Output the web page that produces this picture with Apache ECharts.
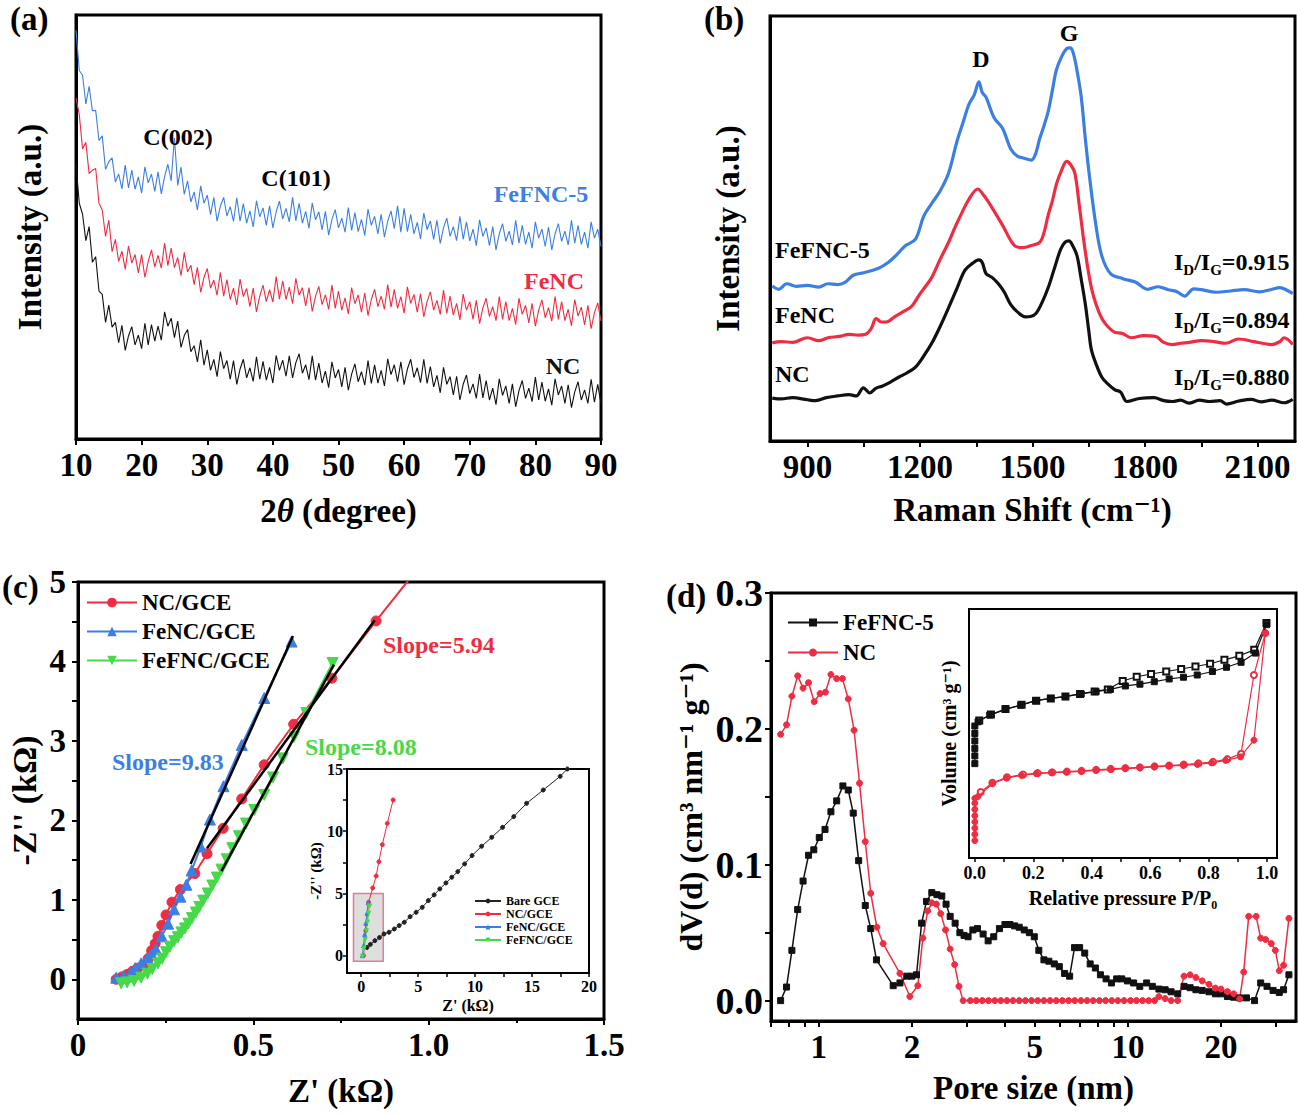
<!DOCTYPE html>
<html><head><meta charset="utf-8">
<script src="https://cdn.jsdelivr.net/npm/echarts@6/dist/echarts.min.js"></script>
<style>html,body{margin:0;padding:0;background:#fff}#c{width:1299px;height:1115px}</style>
</head><body><div id="c"></div>
<script>
// ---------------- (a) XRD ----------------
const XRD_X = [10,10.5,11,11.5,12,12.5,13,13.5,14,14.5,15,15.5,16,16.5,17,17.5,18,18.5,19,19.5,20,20.5,21,21.5,22,22.5,23,23.5,24,24.5,25,25.5,26,26.5,27,27.5,28,28.5,29,29.5,30,30.5,31,31.5,32,32.5,33,33.5,34,34.5,35,35.5,36,36.5,37,37.5,38,38.5,39,39.5,40,40.5,41,41.5,42,42.5,43,43.5,44,44.5,45,45.5,46,46.5,47,47.5,48,48.5,49,49.5,50,50.5,51,51.5,52,52.5,53,53.5,54,54.5,55,55.5,56,56.5,57,57.5,58,58.5,59,59.5,60,60.5,61,61.5,62,62.5,63,63.5,64,64.5,65,65.5,66,66.5,67,67.5,68,68.5,69,69.5,70,70.5,71,71.5,72,72.5,73,73.5,74,74.5,75,75.5,76,76.5,77,77.5,78,78.5,79,79.5,80,80.5,81,81.5,82,82.5,83,83.5,84,84.5,85,85.5,86,86.5,87,87.5,88,88.5,89,89.5,90];
const XRD_FEFNC5 = [
96.4,86.9,85.8,79.0,83.2,77.4,77.5,70.4,71.5,63.6,
65.4,66.3,60.6,62.5,59.0,64.6,59.2,63.4,58.9,61.8,
58.0,64.2,60.4,62.5,58.4,63.0,57.8,61.9,64.8,60.9,
71.0,59.8,64.1,57.7,60.9,55.9,58.3,54.0,59.7,55.6,
57.5,52.9,57.0,51.4,54.9,57.0,52.6,54.8,51.3,56.9,
51.4,55.5,50.9,53.8,50.0,56.2,52.4,54.5,50.4,55.0,
49.8,53.6,56.1,51.9,54.4,51.2,57.0,51.5,55.6,50.9,
53.7,49.7,55.7,51.7,53.6,49.3,53.7,48.1,51.8,54.1,
49.8,52.1,48.8,54.6,49.2,53.4,48.9,51.8,48.0,54.2,
50.4,52.5,48.4,53.0,47.6,51.4,53.8,49.6,55.0,48.8,
54.4,48.9,53.0,48.4,51.1,47.2,53.3,49.4,51.4,47.1,
51.6,46.1,49.8,52.1,47.8,50.1,46.8,52.5,47.1,51.2,
46.7,49.5,45.6,51.7,47.8,49.8,45.6,50.1,44.6,48.4,
50.8,46.6,49.0,45.8,51.6,46.2,50.4,45.9,48.8,45.0,
51.2,47.4,49.5,45.4,50.0,44.6,48.4,50.8,46.6,49.0,
45.8,51.6,46.2,50.4,45.9,48.8,45.0,51.2,47.4,49.5,
45.4];
const XRD_FENC = [
80.4,76.5,68.4,70.0,62.6,63.4,63.8,55.6,54.0,47.8,
51.6,44.2,47.1,41.9,44.3,40.0,45.5,41.5,43.5,39.2,
43.5,38.1,41.9,44.6,40.6,43.3,40.3,46.2,40.9,45.0,
40.4,42.8,38.5,44.0,39.4,41.0,36.4,40.5,34.6,38.1,
40.2,35.6,37.5,33.9,39.3,33.7,37.6,32.9,35.6,31.6,
37.7,33.6,35.5,31.2,35.6,30.0,33.7,36.3,32.4,35.2,
32.3,38.3,33.0,37.3,32.9,35.8,31.9,37.9,33.9,35.7,
31.4,35.7,30.1,33.7,36.0,31.7,34.0,30.6,36.3,30.8,
34.9,30.4,33.3,29.5,35.7,31.9,34.0,29.9,34.5,29.1,
32.9,35.3,31.2,33.7,30.6,36.4,31.1,35.3,30.8,33.6,
29.7,35.9,32.0,34.1,29.9,34.3,28.8,32.4,34.7,30.4,
32.7,29.4,35.1,29.6,33.7,29.2,32.0,28.1,34.2,30.4,
32.4,28.2,32.7,27.2,30.9,33.2,28.9,31.2,27.9,33.6,
28.2,32.4,27.9,30.8,27.0,33.2,29.4,31.5,27.4,32.0,
26.6,30.4,32.8,28.6,31.0,27.8,33.6,28.2,32.4,27.9,
30.6,26.7,32.9,29.0,31.1,26.9,31.5,26.0,29.8,32.1,
27.8];
const XRD_NC = [
64.8,55.6,53.0,46.8,50.1,41.7,43.0,34.9,34.1,27.5,
31.6,26.4,27.5,22.7,26.8,20.9,24.3,26.5,22.2,24.5,
21.3,27.3,22.2,27.0,23.1,26.6,23.3,30.0,26.6,28.5,
23.9,27.8,21.6,24.4,25.8,20.6,22.0,18.2,23.4,17.4,
21.0,16.2,18.8,14.7,20.6,16.6,18.5,14.1,18.5,12.9,
16.5,18.8,14.4,16.8,13.6,19.4,14.1,18.3,13.9,16.9,
13.2,19.7,16.2,18.6,14.8,19.6,14.4,18.0,20.1,15.5,
17.5,14.0,19.6,13.9,17.9,13.2,16.0,12.1,18.2,14.4,
16.4,12.3,16.9,11.5,15.3,17.7,13.5,15.9,12.7,18.5,
13.1,17.5,13.2,16.2,12.5,18.9,15.2,17.5,13.5,18.2,
12.8,16.5,18.8,14.5,16.8,13.3,18.8,13.1,17.1,12.3,
15.0,10.9,16.9,12.9,14.7,10.4,14.8,9.2,12.9,15.1,
10.7,13.0,9.6,15.3,9.7,13.8,9.2,12.0,8.1,14.2,
10.3,12.5,8.4,13.0,7.6,11.4,13.8,9.6,12.0,8.8,
14.6,9.2,13.4,8.9,11.8,8.0,14.2,10.4,12.5,8.4,
12.8,7.4,11.1,13.5,9.2,11.6,8.4,14.1,8.7,12.9,
8.4];

// ---------------- (b) Raman ----------------
const RAMAN_FEFNC5_X = [806,823,845,870,900,930,955,980,1000,1022,1050,1088,1115,1143,1160,1188,1210,1232,1254,1276,1298,1315,1331,1345,1357,1366,1376,1398,1420,1442,1460,1475,1497,1508,1519,1530,1542,1553,1564,1578,1591,1600,1608,1619,1630,1641,1652,1669,1685,1708,1741,1774,1807,1835,1862,1884,1906,1930,1951,1990,2028,2065,2105,2135,2160,2180,2194];
const RAMAN_FEFNC5_Y = [36.5,35.7,37.0,36.4,36.6,36.2,37.0,36.8,37.3,39.0,39.6,40.6,42.0,44.3,45.9,47.5,52.9,56.0,58.9,63.0,70.3,75.0,79.3,81.5,84.5,82.0,80.9,76.0,73.6,68.7,67.0,66.6,66.1,67.5,71.1,74.0,77.6,82.5,87.4,90.5,92.3,92.5,91.5,87.0,80.9,71.0,62.2,50.8,43.5,39.4,38.2,37.4,35.7,36.3,35.6,35.2,34.1,35.8,35.6,35.0,35.3,35.6,35.1,35.6,36.1,35.4,34.7];
const RAMAN_FENC_X = [806,830,860,900,930,955,985,1011,1035,1055,1070,1083,1097,1110,1132,1154,1177,1199,1215,1232,1254,1276,1292,1309,1330,1354,1370,1387,1420,1453,1475,1497,1519,1530,1542,1553,1564,1578,1591,1602,1613,1624,1635,1646,1657,1670,1685,1700,1719,1740,1763,1796,1829,1850,1873,1895,1917,1950,1983,2015,2050,2090,2138,2160,2171,2194];
const RAMAN_FENC_Y = [23.1,23.4,23.2,24.3,23.6,24.3,24.6,25.1,24.9,25.1,26.5,28.8,28.0,28.0,29.2,30.4,31.6,34.5,36.4,38.6,42.8,46.7,50.0,53.2,56.8,59.3,57.8,55.6,50.8,45.9,45.5,46.0,46.7,48.8,53.2,56.5,60.5,63.8,65.8,65.0,63.0,56.0,48.3,41.5,36.1,32.0,28.8,27.0,25.6,25.3,24.3,24.8,24.6,23.2,22.7,23.0,23.2,23.6,23.4,23.0,24.0,23.4,22.7,23.4,24.3,22.7];
const RAMAN_NC_X = [806,830,860,900,922,950,980,1011,1030,1049,1066,1082,1099,1120,1143,1165,1188,1210,1232,1254,1276,1298,1320,1340,1357,1366,1376,1392,1409,1425,1442,1462,1481,1495,1509,1525,1542,1558,1575,1587,1597,1608,1619,1630,1641,1650,1657,1670,1685,1700,1719,1735,1752,1785,1824,1850,1873,1895,1917,1945,1972,2000,2017,2050,2083,2110,2138,2171,2194];
const RAMAN_NC_Y = [10.1,9.9,10.2,9.7,9.5,10.2,10.6,10.9,10.6,12.5,11.3,12.4,12.9,13.8,15.0,16.0,17.4,20.0,23.1,27.0,31.3,35.8,40.2,41.8,42.6,42.0,39.4,38.5,37.0,35.0,32.1,30.2,29.2,29.3,30.0,32.5,36.1,40.5,45.1,46.8,47.1,45.8,43.5,38.0,32.1,26.0,21.5,18.0,15.0,13.5,12.1,11.5,9.3,10.0,10.2,9.5,9.3,9.6,8.9,9.6,9.3,9.5,8.7,9.4,9.8,9.2,9.6,9.0,9.8];
const RAMAN_LABEL_TICKS = [900,1200,1500,1800,2100];
const RAMAN_TICKS = [900,1050,1200,1350,1500,1650,1800,1950,2100];
const RATIOS = ['0.915','0.894','0.880'];

// ---------------- (c) EIS ----------------
const EIS_NC_X = [0.109,0.125,0.14,0.155,0.17,0.187,0.2,0.21,0.22,0.228,0.239,0.251,0.268,0.292,0.333,0.368,0.414,0.467,0.531,0.615,0.724,0.85,0.96];
const EIS_NC_Y = [0.0,0.03,0.06,0.1,0.14,0.18,0.26,0.36,0.45,0.54,0.68,0.81,0.97,1.13,1.33,1.58,1.9,2.27,2.7,3.21,3.79,4.51,5.12];
const EIS_FENC_X = [0.109,0.13,0.15,0.163,0.18,0.198,0.21,0.222,0.239,0.257,0.274,0.292,0.309,0.324,0.35,0.376,0.415,0.467,0.531,0.609];
const EIS_FENC_Y = [0.02,0.04,0.08,0.14,0.2,0.27,0.32,0.38,0.54,0.70,0.88,1.04,1.19,1.37,1.67,2.01,2.43,2.95,3.54,4.25];
const EIS_FEFNC_X = [0.123,0.14,0.16,0.18,0.198,0.212,0.228,0.24,0.251,0.262,0.274,0.285,0.295,0.305,0.315,0.325,0.336,0.346,0.357,0.37,0.383,0.396,0.409,0.424,0.44,0.459,0.479,0.503,0.531,0.556,0.584,0.616,0.651,0.726];
const EIS_FEFNC_Y = [-0.05,-0.04,-0.02,0.02,0.07,0.13,0.20,0.26,0.34,0.41,0.48,0.53,0.59,0.64,0.70,0.77,0.84,0.91,0.99,1.08,1.18,1.28,1.38,1.51,1.65,1.80,1.96,2.13,2.32,2.54,2.78,3.05,3.35,3.98];
const FIT_FENC_X = [0.321,0.613], FIT_FENC_Y = [1.45,4.32];
const FIT_NC_X = [0.368,0.846],  FIT_NC_Y = [1.65,4.52];
const FIT_FEFNC_X = [0.409,0.730], FIT_FEFNC_Y = [1.36,3.96];
const SLOPES = ['5.94','9.83','8.08'];
// inset
const BARE_X = [0.5,0.8,1.2,1.6,2.0,2.44,2.9,3.33,3.78,4.29,4.82,5.36,5.89,6.4,6.9,7.44,7.95,8.48,9.08,9.73,10.57,11.46,12.41,13.39,14.52,15.98,17.47,18.1];
const BARE_Y = [0.65,0.9,1.2,1.45,1.74,1.88,2.14,2.41,2.68,3.13,3.48,3.88,4.42,4.88,5.36,5.84,6.3,6.75,7.37,8.04,8.79,9.51,10.31,11.17,12.24,13.31,14.41,15.0];
const IN_NC_X = [0.2,0.4,0.65,1.01,1.31,1.55,1.85,2.29,2.8];
const IN_NC_Y = [0,2,4.29,5.44,6.4,7.55,8.92,10.63,12.51];
const IN_FENC_X = [0.1,0.2,0.3,0.4,0.5,0.6];
const IN_FENC_Y = [0,0.8,1.7,2.6,3.4,4.25];
const IN_FEFNC_X = [0.12,0.25,0.35,0.45,0.55,0.65,0.73];
const IN_FEFNC_Y = [-0.05,0.6,1.3,2.0,2.7,3.4,3.98];
const ZOOM_BOX = [[-0.68,-0.46],[1.93,5.0]];

// ---------------- (d) pore size ----------------
const PSD_FEFNC5_X = [0.752,0.786,0.818,0.854,0.889,0.926,0.963,1.003,1.047,1.094,1.142,1.196,1.245,1.292,1.345,1.413,1.472,1.536,1.74,1.83,1.925,2.0,2.07,2.15,2.23,2.32,2.41,2.50,2.58,2.66,2.76,2.86,2.95,3.04,3.15,3.26,3.40,3.53,3.68,3.84,4.0,4.15,4.30,4.45,4.62,4.80,4.98,5.15,5.35,5.55,5.78,6.0,6.24,6.48,6.72,6.98,7.25,7.55,7.85,8.15,8.5,8.85,9.2,9.55,9.97,10.44,10.93,11.5,12.0,12.6,13.2,13.8,14.5,15.2,15.9,16.6,17.4,18.3,19.2,20.0,21.0,22.0,23.0,24.2,25.7,26.9,28.2,29.5,30.9,31.9,33.2];
const PSD_FEFNC5_Y = [0.0,0.01,0.037,0.067,0.088,0.107,0.111,0.120,0.126,0.139,0.147,0.158,0.155,0.138,0.103,0.070,0.053,0.030,0.011,0.013,0.018,0.018,0.019,0.057,0.073,0.0795,0.078,0.077,0.071,0.062,0.057,0.050,0.048,0.047,0.052,0.053,0.049,0.044,0.047,0.053,0.056,0.056,0.055,0.054,0.052,0.050,0.047,0.037,0.030,0.029,0.027,0.025,0.020,0.018,0.039,0.039,0.035,0.027,0.024,0.019,0.016,0.013,0.016,0.016,0.0145,0.013,0.0105,0.013,0.0105,0.0085,0.008,0.0065,0.005,0.0105,0.0095,0.008,0.0075,0.0065,0.005,0.005,0.003,0.0025,0.002,0.002,0.0,0.013,0.0105,0.0075,0.006,0.008,0.019];
const PSD_NC_X = [0.752,0.786,0.818,0.854,0.889,0.926,0.966,1.009,1.05,1.094,1.142,1.192,1.245,1.30,1.354,1.413,1.472,1.541,1.614,1.83,1.97,2.09,2.17,2.25,2.32,2.40,2.48,2.57,2.66,2.75,2.84,2.93,3.09,3.23,3.38,3.54,3.71,3.88,4.06,4.25,4.45,4.66,4.88,5.11,5.35,5.6,5.86,6.14,6.43,6.73,7.05,7.38,7.72,8.09,8.47,8.87,9.28,9.72,10.2,10.66,11.16,11.68,12.2,12.6,13.2,13.8,14.5,15.2,15.9,16.6,17.4,18.3,19.2,20.0,21.0,22.0,23.0,23.7,24.6,26.0,26.9,27.9,29.1,30.0,30.9,31.9,33.2];
const PSD_NC_Y = [0.196,0.203,0.224,0.239,0.230,0.234,0.220,0.226,0.227,0.240,0.237,0.237,0.222,0.199,0.160,0.117,0.079,0.054,0.042,0.020,0.003,0.011,0.046,0.066,0.072,0.071,0.064,0.052,0.038,0.0265,0.0105,0.0,0,0,0,0,0,0,0,0,0,0,0,0,0,0,0,0,0,0,0,0,0,0,0,0,0,0,0,0,0,0,0,0.003,0.0015,0.0,0.0,0.018,0.019,0.017,0.0145,0.012,0.0092,0.0085,0.0066,0.005,0.0013,0.021,0.062,0.062,0.046,0.045,0.042,0.037,0.022,0.026,0.0605];
const PSD_LABEL_TICKS = [1,2,5,10,20];
const PSD_TICKS = [0.7,0.8,0.9,1,2,3,4,5,6,7,8,9,10,20,30];
// inset isotherms (volume in arbitrary units)
const ISO_FEFNC5_ADS_X = [0,0,0,0,0,0,0.011,0.051,0.104,0.157,0.208,0.259,0.31,0.364,0.415,0.464,0.515,0.565,0.614,0.665,0.714,0.761,0.813,0.861,0.911,0.96,0.998];
const ISO_FEFNC5_ADS_Y = [37.9,41,44,47,50,53,54.7,57.4,59.7,61.4,63.2,64.1,64.8,65.9,66.8,67.7,69.1,69.8,70.8,71.9,72.6,73.5,74.9,76.6,78.6,82.3,93.7];
const ISO_FEFNC5_DES_X = [0.998,0.956,0.905,0.854,0.805,0.755,0.706,0.655,0.603,0.554,0.506,0.455,0.41,0.36,0.31,0.26,0.21,0.16,0.105,0.055,0.015];
const ISO_FEFNC5_DES_Y = [94.4,83.6,81.2,79.6,78,76.9,75.9,74.9,73.9,72.8,71.1,67.7,66.9,65.9,64.9,64.1,63.2,61.5,59.8,57.6,55.2];
const ISO_NC_ADS_X = [0,0,0,0,0,0,0,0,0.011,0.06,0.108,0.159,0.21,0.261,0.313,0.364,0.415,0.466,0.515,0.565,0.614,0.663,0.713,0.761,0.81,0.858,0.909,0.955,0.994];
const ISO_NC_ADS_Y = [7,9.5,12,14.5,17,19.5,22,24,24.7,29.8,32.1,33.2,33.9,34.3,34.5,34.8,35.2,35.5,35.9,36.2,36.6,37,37.2,37.6,38.2,39.2,40.6,47.3,90.3];
const ISO_NC_DES_X = [0.994,0.955,0.911,0.864,0.815,0.765,0.715,0.665,0.615,0.565,0.515,0.465,0.415,0.365,0.315,0.265,0.215,0.165,0.11,0.06,0.02];
const ISO_NC_DES_Y = [90.3,73.5,41.9,39.7,38.6,38,37.5,37.1,36.8,36.4,36.1,35.8,35.4,35,34.7,34.4,34.1,33.5,32.4,30.2,26.5];
const ISO_LABEL_TICKS = [0,0.2,0.4,0.6,0.8,1.0];
const ISO_TICKS = [0,0.1,0.2,0.3,0.4,0.5,0.6,0.7,0.8,0.9,1.0];

// ---------------- chart ----------------
const FONT = '"Liberation Serif","Times New Roman","DejaVu Serif",serif';
const BLACK = '#111111', RED = '#ee2d42', BLUE = '#3c7fe2', GREEN = '#46d94a';
const zip = (xs, ys) => xs.map((x, i) => [x, ys[i]]);
const T = (size, extra) => Object.assign({fontFamily: FONT, fontWeight: 'bold', fontSize: size, color: '#000'}, extra || {});
const DOWN_TRI = 'path://M0,0 L10,0 L5,9 Z';

function axisBase(grid, w) {
  return {
    gridIndex: grid, type: 'value',
    axisLine: {show: true, onZero: false, lineStyle: {color: '#000', width: w}},
    axisTick: {show: true, length: 6, lineStyle: {color: '#000', width: 2}},
    splitLine: {show: false},
  };
}
function gridBox(l, t, w, h, bw, bg) {
  return {left: l, top: t, width: w, height: h, show: true, borderColor: '#000', borderWidth: bw,
          backgroundColor: bg || 'transparent', containLabel: false, outerBoundsMode: 'none'};
}

const xAxes = [
  Object.assign(axisBase(0, 3), {min: 10, max: 90, interval: 10,
    axisLabel: T(33, {margin: 9}),
    name: '2{it|θ} (degree)', nameLocation: 'middle', nameGap: 55,
    nameTextStyle: T(33, {rich: {it: T(33, {fontStyle: 'italic'})}})}),
  Object.assign(axisBase(1, 3), {min: 800, max: 2200,
    axisLabel: T(33, {margin: 9, customValues: RAMAN_LABEL_TICKS, formatter: v => String(Math.round(v))}),
    axisTick: {show: true, length: 6, lineStyle: {color: '#000', width: 2}, customValues: RAMAN_TICKS},
    name: 'Raman Shift (cm⁻¹)', nameLocation: 'middle', nameGap: 52, nameTextStyle: T(33)}),
  Object.assign(axisBase(2, 3), {min: 0, max: 1.5, interval: 0.5,
    axisLabel: T(33, {margin: 9, formatter: v => v === 0 ? '0' : v.toFixed(1)}),
    minorTick: {show: true, splitNumber: 2, length: 4, lineStyle: {color: '#000', width: 2}},
    name: "Z' (kΩ)", nameLocation: 'middle', nameGap: 55, nameTextStyle: T(33)}),
  Object.assign(axisBase(3, 2), {min: -1.25, max: 20,
    axisLabel: T(16, {margin: 5, customValues: [0,5,10,15,20]}),
    axisTick: {show: true, length: 4, lineStyle: {color: '#000', width: 1.5}, customValues: [0,2.5,5,7.5,10,12.5,15,17.5,20]},
    name: "Z' (kΩ)", nameLocation: 'middle', nameGap: 24, nameTextStyle: T(16)}),
  Object.assign(axisBase(4, 3), {type: 'log', logBase: 10, min: 0.7, max: 35,
    axisLabel: T(33, {margin: 9, customValues: PSD_LABEL_TICKS, formatter: v => String(Math.round(v))}),
    axisTick: {show: true, length: 6, lineStyle: {color: '#000', width: 2}, customValues: PSD_TICKS},
    name: 'Pore size (nm)', nameLocation: 'middle', nameGap: 50, nameTextStyle: T(33)}),
  Object.assign(axisBase(5, 2), {min: -0.02, max: 1.034,
    axisLabel: T(18, {margin: 6, customValues: ISO_LABEL_TICKS, formatter: v => v.toFixed(1)}),
    axisTick: {show: true, length: 4, lineStyle: {color: '#000', width: 1.5}, customValues: ISO_TICKS},
    name: 'Relative pressure P/P₀', nameLocation: 'middle', nameGap: 30, nameTextStyle: T(20)}),
];
const yAxes = [
  Object.assign(axisBase(0, 3), {min: 0, max: 100, axisTick: {show: false}, axisLabel: {show: false},
    name: 'Intensity (a.u.)', nameLocation: 'middle', nameGap: 30, nameTextStyle: T(33)}),
  Object.assign(axisBase(1, 3), {min: 0, max: 100, axisTick: {show: false}, axisLabel: {show: false},
    name: 'Intensity (a.u.)', nameLocation: 'middle', nameGap: 26, nameTextStyle: T(33)}),
  Object.assign(axisBase(2, 3), {min: -0.5, max: 5,
    axisLabel: T(33, {margin: 12, customValues: [0,1,2,3,4,5]}),
    axisTick: {show: true, length: 6, lineStyle: {color: '#000', width: 2}, customValues: [0,0.5,1,1.5,2,2.5,3,3.5,4,4.5,5]},
    name: "-Z'' (kΩ)", nameLocation: 'middle', nameGap: 37, nameTextStyle: T(34)}),
  Object.assign(axisBase(3, 2), {min: -1.4, max: 15,
    axisLabel: T(16, {margin: 4, customValues: [0,5,10,15]}),
    axisTick: {show: true, length: 4, lineStyle: {color: '#000', width: 1.5}, customValues: [0,2.5,5,7.5,10,12.5,15]},
    name: "-Z'' (kΩ)", nameLocation: 'middle', nameGap: 24, nameTextStyle: T(15)}),
  Object.assign(axisBase(4, 3), {min: -0.015, max: 0.3,
    axisLabel: T(38, {margin: 8, customValues: [0,0.1,0.2,0.3], formatter: v => v.toFixed(1)}),
    axisTick: {show: true, length: 6, lineStyle: {color: '#000', width: 2}, customValues: [0,0.05,0.1,0.15,0.2,0.25,0.3]},
    name: 'dV(d) (cm³ nm⁻¹ g⁻¹)', nameLocation: 'middle', nameGap: 64, nameTextStyle: T(32)}),
  Object.assign(axisBase(5, 2), {min: 0, max: 100, axisTick: {show: false}, axisLabel: {show: false},
    name: 'Volume (cm³ g⁻¹)', nameLocation: 'middle', nameGap: 10, nameTextStyle: T(20)}),
];

function line(name, g, xs, ys, color, opts) {
  return Object.assign({
    name: name, type: 'line', xAxisIndex: g, yAxisIndex: g, data: zip(xs, ys),
    showSymbol: false, symbol: 'none', lineStyle: {color: color, width: 1.1}, itemStyle: {color: color},
    emphasis: {disabled: true}, clip: true, z: 3
  }, opts || {});
}
function marked(name, g, xs, ys, color, symbol, size, lw, extra) {
  return line(name, g, xs, ys, color, Object.assign({
    showSymbol: true, symbol: symbol, symbolSize: size,
    lineStyle: {color: color, width: lw}, itemStyle: {color: color, borderColor: color}
  }, extra || {}));
}

const series = [
  line('XRD FeFNC-5', 0, XRD_X, XRD_FEFNC5, BLUE),
  line('XRD FeNC', 0, XRD_X, XRD_FENC, RED),
  line('XRD NC', 0, XRD_X, XRD_NC, BLACK),
  line('Raman FeFNC-5', 1, RAMAN_FEFNC5_X, RAMAN_FEFNC5_Y, BLUE, {smooth: 0.35, lineStyle: {color: BLUE, width: 3.2}}),
  line('Raman FeNC', 1, RAMAN_FENC_X, RAMAN_FENC_Y, RED, {smooth: 0.35, lineStyle: {color: RED, width: 3.2}}),
  line('Raman NC', 1, RAMAN_NC_X, RAMAN_NC_Y, BLACK, {smooth: 0.35, lineStyle: {color: BLACK, width: 3.2}}),
  marked('NC/GCE', 2, EIS_NC_X, EIS_NC_Y, RED, 'circle', 10, 2),
  marked('FeNC/GCE', 2, EIS_FENC_X, EIS_FENC_Y, BLUE, 'triangle', 11, 2),
  marked('FeFNC/GCE', 2, EIS_FEFNC_X, EIS_FEFNC_Y, GREEN, DOWN_TRI, 11, 2),
  line('fit FeNC', 2, FIT_FENC_X, FIT_FENC_Y, BLACK, {lineStyle: {color: '#000', width: 2.5}, z: 5}),
  line('fit NC', 2, FIT_NC_X, FIT_NC_Y, BLACK, {lineStyle: {color: '#000', width: 2.5}, z: 5}),
  line('fit FeFNC', 2, FIT_FEFNC_X, FIT_FEFNC_Y, BLACK, {lineStyle: {color: '#000', width: 2.5}, z: 5}),
  marked('Bare GCE', 3, BARE_X, BARE_Y, '#222', 'circle', 4, 1, {
    markArea: {silent: true, itemStyle: {color: 'rgba(180,185,180,0.45)', borderColor: '#e57a95', borderWidth: 1.5},
      data: [[{coord: ZOOM_BOX[0]}, {coord: ZOOM_BOX[1]}]]}}),
  marked('NC/GCE ', 3, IN_NC_X, IN_NC_Y, RED, 'circle', 4, 1),
  marked('FeNC/GCE ', 3, IN_FENC_X, IN_FENC_Y, BLUE, 'triangle', 4, 1),
  marked('FeFNC/GCE ', 3, IN_FEFNC_X, IN_FEFNC_Y, GREEN, DOWN_TRI, 4, 1),
  marked('FeFNC-5', 4, PSD_FEFNC5_X, PSD_FEFNC5_Y, BLACK, 'rect', 6, 1.5),
  marked('NC', 4, PSD_NC_X, PSD_NC_Y, RED, 'circle', 6, 1.5),
  marked('iso FeFNC-5 des', 5, ISO_FEFNC5_DES_X, ISO_FEFNC5_DES_Y, BLACK, 'emptyRect', 6, 1.2, {z: 3, itemStyle: {color: BLACK, borderWidth: 1.2}}),
  marked('iso NC des', 5, ISO_NC_DES_X, ISO_NC_DES_Y, RED, 'emptyCircle', 6, 1.2, {z: 3, itemStyle: {color: RED, borderWidth: 1.2}}),
  marked('iso FeFNC-5 ads', 5, ISO_FEFNC5_ADS_X, ISO_FEFNC5_ADS_Y, BLACK, 'rect', 6, 1.2, {z: 4}),
  marked('iso NC ads', 5, ISO_NC_ADS_X, ISO_NC_ADS_Y, RED, 'circle', 6, 1.2, {z: 4}),
];

function txt(x, y, s, size, color, align, extra) {
  return Object.assign({type: 'text', x: x, y: y, silent: true, z: 100,
    style: {text: s, fill: color || '#000', font: 'bold ' + size + 'px ' + FONT, align: align || 'center', verticalAlign: 'middle'}}, extra || {});
}
function ratio(x, y, val) {
  const n = {fontSize: 24, fontWeight: 'bold', fontFamily: FONT, fill: '#000', color: '#000', lineHeight: 30, verticalAlign: 'middle'};
  const s = {fontSize: 15, fontWeight: 'bold', fontFamily: FONT, fill: '#000', color: '#000', lineHeight: 30, verticalAlign: 'bottom'};
  return {type: 'text', x: x, y: y, silent: true, z: 100,
    style: {text: '{n|I}{s|D}{n|/I}{s|G}{n|=' + val + '}', rich: {n: n, s: s}, align: 'left', verticalAlign: 'middle'}};
}

const graphic = [
  txt(10, 19, '(a)', 33, '#000', 'left'),
  txt(704, 19, '(b)', 33, '#000', 'left'),
  txt(2, 587, '(c)', 33, '#000', 'left'),
  txt(666, 596, '(d)', 33, '#000', 'left'),
  txt(178, 137, 'C(002)', 24),
  txt(296, 178, 'C(101)', 24),
  txt(541, 194, 'FeFNC-5', 24, BLUE),
  txt(554, 281, 'FeNC', 24, RED),
  txt(563, 366, 'NC', 24, BLACK),
  txt(981, 59, 'D', 24),
  txt(1069, 33, 'G', 24),
  txt(775, 250, 'FeFNC-5', 24, '#000', 'left'),
  txt(775, 315, 'FeNC', 24, '#000', 'left'),
  txt(775, 374, 'NC', 24, '#000', 'left'),
  ratio(1174, 262, RATIOS[0]),
  ratio(1174, 320, RATIOS[1]),
  ratio(1174, 377, RATIOS[2]),
  txt(383, 645, 'Slope=' + SLOPES[0], 24, RED, 'left'),
  txt(112, 762, 'Slope=' + SLOPES[1], 24, BLUE, 'left'),
  txt(305, 747, 'Slope=' + SLOPES[2], 24, GREEN, 'left'),
];

const legendText = T(23);
const option = {
  animation: false,
  backgroundColor: '#fff',
  grid: [
    gridBox(76, 15, 525, 424, 3),
    gridBox(770, 16, 525, 425, 3),
    gridBox(78, 582, 526, 437, 3),
    gridBox(347, 769, 242, 204, 2, '#fff'),
    gridBox(771, 593, 525, 428, 3),
    gridBox(969, 609, 308, 249, 2, '#fff'),
  ],
  xAxis: xAxes,
  yAxis: yAxes,
  legend: [
    {data: ['NC/GCE', 'FeNC/GCE', 'FeFNC/GCE'], orient: 'vertical', left: 86, top: 591, itemWidth: 50, itemHeight: 12, itemGap: 6,
     textStyle: legendText, selectedMode: false, padding: 0},
    {data: ['Bare GCE', 'NC/GCE ', 'FeNC/GCE ', 'FeFNC/GCE '], orient: 'vertical', left: 474, top: 895, itemWidth: 26, itemHeight: 6, itemGap: 1,
     textStyle: T(12), selectedMode: false, padding: 0, formatter: n => n.trim()},
    {data: ['FeFNC-5', 'NC'], orient: 'vertical', left: 787, top: 611, itemWidth: 50, itemHeight: 10, itemGap: 7,
     textStyle: legendText, selectedMode: false, padding: 0},
  ],
  series: series,
  graphic: graphic,
};

const chart = echarts.init(document.getElementById('c'), null, {renderer: 'svg', width: 1299, height: 1115});
chart.setOption(option);
</script>
</body></html>
